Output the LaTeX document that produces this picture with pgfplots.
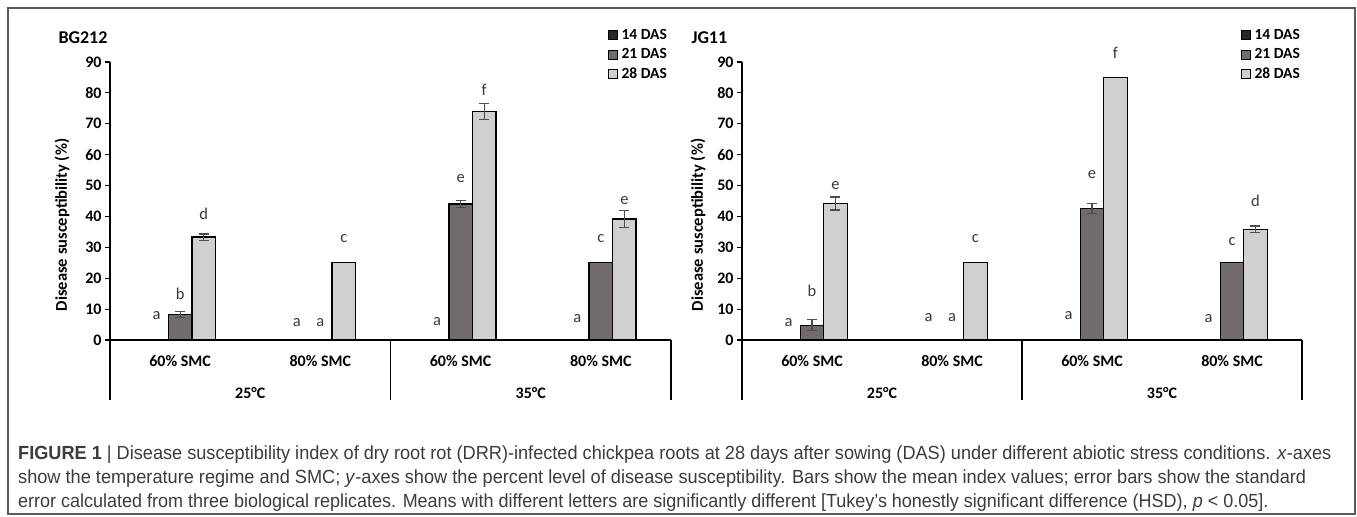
\documentclass[border=0pt]{standalone}
\usepackage{fontspec}
\usepackage{graphicx}
\setmainfont{Carlito}
\newfontfamily\capfont{Liberation Sans}
\usepackage{pgfplots}
\pgfplotsset{compat=1.18}
\definecolor{cA}{HTML}{262626}
\definecolor{cB}{HTML}{716B6B}
\definecolor{cC}{HTML}{D0D0D0}
\definecolor{lettc}{HTML}{3A3A3A}
\definecolor{framec}{HTML}{5A5A5A}
\definecolor{capc}{HTML}{3C3C3C}
\newcommand{\fs}[1]{\fontsize{#1}{1.2\dimexpr#1\relax}\selectfont}
\pgfplotsset{
 panel/.style={
  scale only axis, height=278bp,
  xmin=-0.5, xmax=3.5, ymin=0, ymax=90,
  axis lines=left, axis line style={-, line width=1.3bp, black},
  ytick={0,10,...,90}, tick align=outside, major tick length=5bp,
  ytick style={line width=1.1bp, black},
  yticklabel style={font=\fs{16bp}\bfseries},
  /pgf/number format/assume math mode=true,
  xtick={0,1,2,3}, xticklabels={60\% SMC,80\% SMC,60\% SMC,80\% SMC},
  x tick style={draw=none},
  xticklabel style={font=\fs{16bp}\bfseries, anchor=center, yshift=-16bp},
  clip=false,
  every axis y label/.style={rotate=90, anchor=center, font=\fs{16.5bp}\bfseries},
  every axis title/.style={anchor=west, font=\fs{18bp}\bfseries},
  legend style={draw=none, fill=none, inner sep=0pt, anchor=north west,
     font=\fs{15.5bp}\bfseries, row sep=5.5bp, column sep=0pt, legend cell align=left,
     nodes={inner sep=0pt, text height=11bp, text depth=3bp}},
  legend image code/.code={\path[draw=none,fill=none] (0bp,0bp) -- (13bp,0bp);\draw[#1, line width=0.8bp] (0bp,-4.5bp) rectangle (9bp,4.5bp);},
  bA/.style={ybar, bar width=23.5bp, bar shift=-23.5bp, fill=cA, draw=black, line width=1.3bp},
  bB/.style={ybar, bar width=23.5bp, bar shift=0bp, fill=cB, draw=black, line width=1.3bp},
  bC/.style={ybar, bar width=23.5bp, bar shift=23.5bp, fill=cC, draw=black, line width=1.3bp},
  eb/.style={draw=none, mark=none, forget plot,
     error bars/.cd, y dir=both, y explicit,
     error bar style={line width=1.1bp, black!70},
     error mark options={rotate=90, mark size=5bp, line width=1.1bp, black!70}},
  lett/.style={draw=none, mark=none, forget plot, nodes near coords, point meta=explicit symbolic,
     nodes near coords style={anchor=center, font=\fs{16.5bp}, text=lettc}},
 }
}
\begin{document}
\begin{tikzpicture}
\useasboundingbox (0,0) rectangle (1357bp,517bp);
\fill[white] (0,0) rectangle (1357bp,517bp);
\draw[framec, line width=1.5bp] (8bp,3bp) rectangle (1355bp,509bp);

% ---------- BG212 ----------
\begin{axis}[panel, width=561bp, at={(110bp,177bp)}, anchor=south west,
  title={BG212}, title style={at={(axis description cs:-0.098,1.086)}},
  ylabel={Disease susceptibility (\%)}, ylabel style={at={(axis description cs:-0.0856,0.414)}},
  legend style={at={(axis description cs:0.8877,1.122)}}]
\addplot[bA] coordinates {(0,0) (1,0) (2,0) (3,0)};
\addlegendentry{14 DAS}
\addplot[bB] coordinates {(0,8.3) (1,0) (2,44.0) (3,25)};
\addlegendentry{21 DAS}
\addplot[bC] coordinates {(0,33.3) (1,25) (2,74.0) (3,39.2)};
\addlegendentry{28 DAS}
\addplot[eb] coordinates {(0,8.3) +- (0,1.0) (2,44.0) +- (0,1.2)};
\addplot[eb] coordinates {(0.1676,33.3) +- (0,1.0) (2.1676,74.0) +- (0,2.5) (3.1676,39.2) +- (0,2.7)};
\addplot[lett] coordinates {(-0.1676,8) [a] (0.8324,5.5) [a] (1.8324,6.1) [a] (2.8324,7) [a]};
\addplot[lett] coordinates {(0,15) [b] (1,5.5) [a] (2,52.4) [e] (3,33) [c]};
\addplot[lett] coordinates {(0.1676,40.8) [d] (1.1676,33) [c] (2.1676,81) [f] (3.1676,45.3) [e]};
\draw[line width=1.3bp] (axis cs:-0.5,0) -- ++(0bp,-60bp);
\draw[line width=1.3bp] (axis cs:1.5,0) -- ++(0bp,-60bp);
\draw[line width=1.3bp] (axis cs:3.5,0) -- ++(0bp,-60bp);
\node[font=\fs{16bp}\bfseries, yshift=-53bp] at (axis cs:0.5,0) {25°C};
\node[font=\fs{16bp}\bfseries, yshift=-53bp] at (axis cs:2.5,0) {35°C};
\end{axis}

% ---------- JG11 ----------
\begin{axis}[panel, width=560bp, at={(742bp,177bp)}, anchor=south west,
  title={JG11}, title style={at={(axis description cs:-0.0964,1.086)}},
  ylabel={Disease susceptibility (\%)}, ylabel style={at={(axis description cs:-0.0786,0.414)}},
  legend style={at={(axis description cs:0.891,1.122)}}]
\addplot[bA] coordinates {(0,0) (1,0) (2,0) (3,0)};
\addlegendentry{14 DAS}
\addplot[bB] coordinates {(0,4.8) (1,0) (2,42.6) (3,25)};
\addlegendentry{21 DAS}
\addplot[bC] coordinates {(0,44.2) (1,25) (2,85) (3,35.8)};
\addlegendentry{28 DAS}
\addplot[eb] coordinates {(0,4.8) +- (0,1.8) (2,42.6) +- (0,1.7)};
\addplot[eb] coordinates {(0.1676,44.2) +- (0,2.1) (3.1676,35.8) +- (0,1.1)};
\addplot[lett] coordinates {(-0.1676,5.5) [a] (0.8324,7.4) [a] (1.8324,8) [a] (2.8324,6.8) [a]};
\addplot[lett] coordinates {(0,15.9) [b] (1,7.4) [a] (2,53.7) [e] (3,31.8) [c]};
\addplot[lett] coordinates {(0.1676,50) [e] (1.1676,33) [c] (2.1676,93) [f] (3.1676,45) [d]};
\draw[line width=1.3bp] (axis cs:-0.5,0) -- ++(0bp,-60bp);
\draw[line width=1.3bp] (axis cs:1.5,0) -- ++(0bp,-60bp);
\draw[line width=1.3bp] (axis cs:3.5,0) -- ++(0bp,-60bp);
\node[font=\fs{16bp}\bfseries, yshift=-53bp] at (axis cs:0.5,0) {25°C};
\node[font=\fs{16bp}\bfseries, yshift=-53bp] at (axis cs:2.5,0) {35°C};
\end{axis}

% ---------- caption ----------
\begin{scope}[every node/.style={anchor=base west, inner sep=0pt, text=capc, font=\capfont\fs{19bp}}]
\node at (18bp,57bp) {\resizebox{1313bp}{\height}{\textbf{FIGURE 1} | Disease susceptibility index of dry root rot (DRR)-infected chickpea roots at 28 days after sowing (DAS) under different abiotic stress conditions. \textit{x}-axes}};
\node at (18bp,33.5bp) {\resizebox{1288bp}{\height}{show the temperature regime and SMC; \textit{y}-axes show the percent level of disease susceptibility. Bars show the mean index values; error bars show the standard}};
\node at (18bp,10bp) {\resizebox{1250bp}{\height}{error calculated from three biological replicates. Means with different letters are significantly different [Tukey’s honestly significant difference (HSD), \textit{p} < 0.05].}};
\end{scope}
\end{tikzpicture}
\end{document}
